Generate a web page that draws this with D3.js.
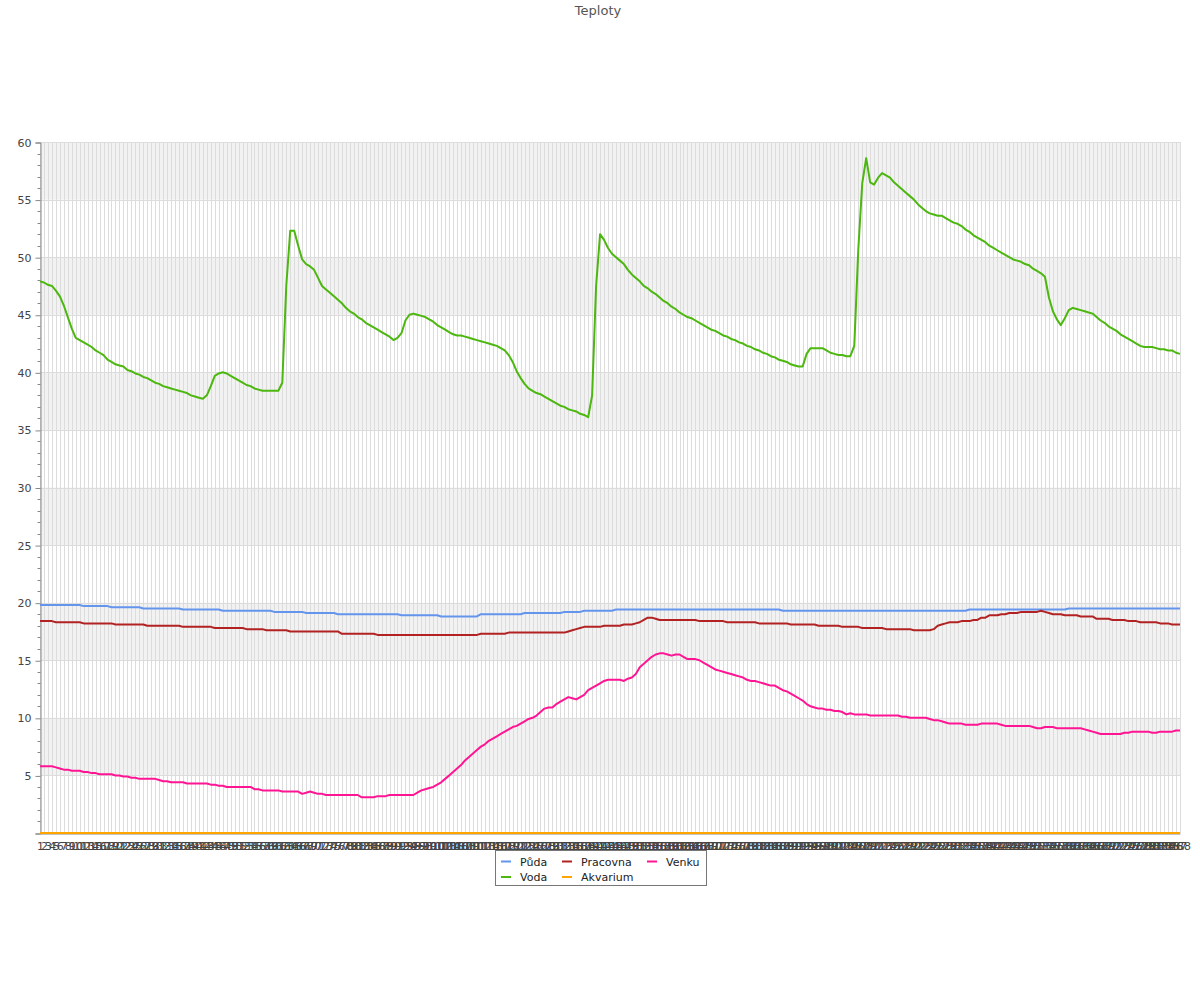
<!DOCTYPE html>
<html>
<head>
<meta charset="utf-8">
<script src="https://cdn.jsdelivr.net/npm/d3@7"></script>
<style>
  html, body { margin: 0; padding: 0; background: #fff; }
  svg { display: block; font-family: "DejaVu Sans", sans-serif; }
</style>
</head>
<body>
<svg id="chart" width="1200" height="1000"></svg>
<script>
const title = "Teploty";
const categories = d3.range(1, 289).map(String);
const yTicks = [0, 5, 10, 15, 20, 25, 30, 35, 40, 45, 50, 55, 60];
const seriesNames = ["Půda", "Voda", "Pracovna", "Akvarium", "Venku"];
const seriesColors = ["#6495ed", "#4cb70f", "#b22222", "#ffa500", "#ff1493"];

const puda = [
19.8,19.8,19.8,19.8,19.8,19.8,19.8,19.8,19.8,19.8,
19.8,19.7,19.7,19.7,19.7,19.7,19.7,19.7,19.6,19.6,
19.6,19.6,19.6,19.6,19.6,19.6,19.5,19.5,19.5,19.5,
19.5,19.5,19.5,19.5,19.5,19.5,19.4,19.4,19.4,19.4,
19.4,19.4,19.4,19.4,19.4,19.4,19.3,19.3,19.3,19.3,
19.3,19.3,19.3,19.3,19.3,19.3,19.3,19.3,19.3,19.2,
19.2,19.2,19.2,19.2,19.2,19.2,19.2,19.1,19.1,19.1,
19.1,19.1,19.1,19.1,19.1,19.0,19.0,19.0,19.0,19.0,
19.0,19.0,19.0,19.0,19.0,19.0,19.0,19.0,19.0,19.0,
19.0,18.9,18.9,18.9,18.9,18.9,18.9,18.9,18.9,18.9,
18.9,18.8,18.8,18.8,18.8,18.8,18.8,18.8,18.8,18.8,
18.8,19.0,19.0,19.0,19.0,19.0,19.0,19.0,19.0,19.0,
19.0,19.0,19.1,19.1,19.1,19.1,19.1,19.1,19.1,19.1,
19.1,19.1,19.2,19.2,19.2,19.2,19.2,19.3,19.3,19.3,
19.3,19.3,19.3,19.3,19.3,19.4,19.4,19.4,19.4,19.4,
19.4,19.4,19.4,19.4,19.4,19.4,19.4,19.4,19.4,19.4,
19.4,19.4,19.4,19.4,19.4,19.4,19.4,19.4,19.4,19.4,
19.4,19.4,19.4,19.4,19.4,19.4,19.4,19.4,19.4,19.4,
19.4,19.4,19.4,19.4,19.4,19.4,19.4,19.3,19.3,19.3,
19.3,19.3,19.3,19.3,19.3,19.3,19.3,19.3,19.3,19.3,
19.3,19.3,19.3,19.3,19.3,19.3,19.3,19.3,19.3,19.3,
19.3,19.3,19.3,19.3,19.3,19.3,19.3,19.3,19.3,19.3,
19.3,19.3,19.3,19.3,19.3,19.3,19.3,19.3,19.3,19.3,
19.3,19.3,19.3,19.3,19.4,19.4,19.4,19.4,19.4,19.4,
19.4,19.4,19.4,19.4,19.4,19.4,19.4,19.4,19.4,19.4,
19.4,19.4,19.4,19.4,19.4,19.4,19.4,19.4,19.4,19.5,
19.5,19.5,19.5,19.5,19.5,19.5,19.5,19.5,19.5,19.5,
19.5,19.5,19.5,19.5,19.5,19.5,19.5,19.5,19.5,19.5,
19.5,19.5,19.5,19.5,19.5,19.5,19.5,19.5];

const voda = [
47.9,47.8,47.6,47.5,47.1,46.6,45.8,44.8,43.8,43.0,
42.8,42.6,42.4,42.2,41.9,41.7,41.5,41.1,40.9,40.7,
40.6,40.5,40.2,40.1,39.9,39.8,39.6,39.5,39.3,39.1,
39.0,38.8,38.7,38.6,38.5,38.4,38.3,38.2,38.0,37.9,
37.8,37.7,38.0,38.8,39.7,39.9,40.0,39.9,39.7,39.5,
39.3,39.1,38.9,38.8,38.6,38.5,38.4,38.4,38.4,38.4,
38.4,39.1,47.5,52.3,52.3,51.0,49.8,49.4,49.2,48.9,
48.2,47.5,47.2,46.9,46.6,46.3,46.0,45.6,45.3,45.1,
44.8,44.6,44.3,44.1,43.9,43.7,43.5,43.3,43.1,42.8,
43.0,43.4,44.5,45.0,45.1,45.0,44.9,44.8,44.6,44.4,
44.1,43.9,43.7,43.5,43.3,43.2,43.2,43.1,43.0,42.9,
42.8,42.7,42.6,42.5,42.4,42.3,42.1,41.9,41.5,40.9,
40.1,39.5,39.0,38.6,38.4,38.2,38.1,37.9,37.7,37.5,
37.3,37.1,37.0,36.8,36.7,36.6,36.4,36.3,36.1,38.0,
47.5,52.0,51.5,50.8,50.3,50.0,49.7,49.4,48.9,48.5,
48.2,47.9,47.5,47.3,47.0,46.8,46.5,46.2,46.0,45.7,
45.5,45.2,45.0,44.8,44.7,44.5,44.3,44.1,43.9,43.7,
43.6,43.4,43.2,43.1,42.9,42.8,42.6,42.5,42.3,42.2,
42.0,41.9,41.7,41.6,41.4,41.3,41.1,41.0,40.9,40.7,
40.6,40.5,40.5,41.6,42.1,42.1,42.1,42.1,41.9,41.7,
41.6,41.5,41.5,41.4,41.4,42.3,50.6,56.4,58.6,56.5,
56.3,56.9,57.3,57.1,56.9,56.5,56.2,55.9,55.6,55.3,
55.0,54.6,54.3,54.0,53.8,53.7,53.6,53.6,53.4,53.2,
53.0,52.9,52.7,52.4,52.2,51.9,51.7,51.5,51.3,51.0,
50.8,50.6,50.4,50.2,50.0,49.8,49.7,49.6,49.4,49.3,
49.0,48.8,48.6,48.3,46.5,45.3,44.6,44.1,44.7,45.4,
45.6,45.5,45.4,45.3,45.2,45.1,44.8,44.5,44.3,44.0,
43.8,43.6,43.3,43.1,42.9,42.7,42.5,42.3,42.2,42.2,
42.2,42.1,42.0,42.0,41.9,41.9,41.7,41.6];

const pracovna = [
18.4,18.4,18.4,18.4,18.3,18.3,18.3,18.3,18.3,18.3,
18.3,18.2,18.2,18.2,18.2,18.2,18.2,18.2,18.2,18.1,
18.1,18.1,18.1,18.1,18.1,18.1,18.1,18.0,18.0,18.0,
18.0,18.0,18.0,18.0,18.0,18.0,17.9,17.9,17.9,17.9,
17.9,17.9,17.9,17.9,17.8,17.8,17.8,17.8,17.8,17.8,
17.8,17.8,17.7,17.7,17.7,17.7,17.7,17.6,17.6,17.6,
17.6,17.6,17.6,17.5,17.5,17.5,17.5,17.5,17.5,17.5,
17.5,17.5,17.5,17.5,17.5,17.5,17.3,17.3,17.3,17.3,
17.3,17.3,17.3,17.3,17.3,17.2,17.2,17.2,17.2,17.2,
17.2,17.2,17.2,17.2,17.2,17.2,17.2,17.2,17.2,17.2,
17.2,17.2,17.2,17.2,17.2,17.2,17.2,17.2,17.2,17.2,
17.2,17.3,17.3,17.3,17.3,17.3,17.3,17.3,17.4,17.4,
17.4,17.4,17.4,17.4,17.4,17.4,17.4,17.4,17.4,17.4,
17.4,17.4,17.4,17.5,17.6,17.7,17.8,17.9,17.9,17.9,
17.9,17.9,18.0,18.0,18.0,18.0,18.0,18.1,18.1,18.1,
18.2,18.3,18.5,18.7,18.7,18.6,18.5,18.5,18.5,18.5,
18.5,18.5,18.5,18.5,18.5,18.5,18.4,18.4,18.4,18.4,
18.4,18.4,18.4,18.3,18.3,18.3,18.3,18.3,18.3,18.3,
18.3,18.2,18.2,18.2,18.2,18.2,18.2,18.2,18.2,18.1,
18.1,18.1,18.1,18.1,18.1,18.1,18.0,18.0,18.0,18.0,
18.0,18.0,17.9,17.9,17.9,17.9,17.9,17.8,17.8,17.8,
17.8,17.8,17.8,17.7,17.7,17.7,17.7,17.7,17.7,17.7,
17.6,17.6,17.6,17.6,17.6,17.7,18.0,18.1,18.2,18.3,
18.3,18.3,18.4,18.4,18.4,18.5,18.5,18.7,18.7,18.9,
18.9,18.9,19.0,19.0,19.1,19.1,19.1,19.2,19.2,19.2,
19.2,19.2,19.3,19.2,19.1,19.0,19.0,19.0,18.9,18.9,
18.9,18.9,18.8,18.8,18.8,18.8,18.6,18.6,18.6,18.6,
18.5,18.5,18.5,18.5,18.4,18.4,18.4,18.3,18.3,18.3,
18.3,18.3,18.2,18.2,18.2,18.1,18.1,18.1];

const akvarium = [
0,0,0,0,0,0,0,0,0,0, 0,0,0,0,0,0,0,0,0,0, 0,0,0,0,0,0,0,0,0,0,
0,0,0,0,0,0,0,0,0,0, 0,0,0,0,0,0,0,0,0,0, 0,0,0,0,0,0,0,0,0,0,
0,0,0,0,0,0,0,0,0,0, 0,0,0,0,0,0,0,0,0,0, 0,0,0,0,0,0,0,0,0,0,
0,0,0,0,0,0,0,0,0,0, 0,0,0,0,0,0,0,0,0,0, 0,0,0,0,0,0,0,0,0,0,
0,0,0,0,0,0,0,0,0,0, 0,0,0,0,0,0,0,0,0,0, 0,0,0,0,0,0,0,0,0,0,
0,0,0,0,0,0,0,0,0,0, 0,0,0,0,0,0,0,0,0,0, 0,0,0,0,0,0,0,0,0,0,
0,0,0,0,0,0,0,0,0,0, 0,0,0,0,0,0,0,0,0,0, 0,0,0,0,0,0,0,0,0,0,
0,0,0,0,0,0,0,0,0,0, 0,0,0,0,0,0,0,0,0,0, 0,0,0,0,0,0,0,0,0,0,
0,0,0,0,0,0,0,0,0,0, 0,0,0,0,0,0,0,0,0,0, 0,0,0,0,0,0,0,0,0,0,
0,0,0,0,0,0,0,0,0,0, 0,0,0,0,0,0,0,0];

const venku = [
5.8,5.8,5.8,5.8,5.7,5.6,5.5,5.5,5.4,5.4,
5.4,5.3,5.3,5.2,5.2,5.1,5.1,5.1,5.1,5.0,
5.0,4.9,4.9,4.8,4.8,4.7,4.7,4.7,4.7,4.7,
4.6,4.5,4.5,4.4,4.4,4.4,4.4,4.3,4.3,4.3,
4.3,4.3,4.3,4.2,4.2,4.1,4.1,4.0,4.0,4.0,
4.0,4.0,4.0,4.0,3.8,3.8,3.7,3.7,3.7,3.7,
3.7,3.6,3.6,3.6,3.6,3.6,3.4,3.5,3.6,3.5,
3.4,3.4,3.3,3.3,3.3,3.3,3.3,3.3,3.3,3.3,
3.3,3.1,3.1,3.1,3.1,3.2,3.2,3.2,3.3,3.3,
3.3,3.3,3.3,3.3,3.3,3.5,3.7,3.8,3.9,4.0,
4.2,4.4,4.7,5.0,5.3,5.6,5.9,6.3,6.6,6.9,
7.2,7.5,7.7,8.0,8.2,8.4,8.6,8.8,9.0,9.2,
9.3,9.5,9.7,9.9,10.0,10.2,10.5,10.8,10.9,10.9,
11.2,11.4,11.6,11.8,11.7,11.6,11.8,12.0,12.4,12.6,
12.8,13.0,13.2,13.3,13.3,13.3,13.3,13.2,13.4,13.5,
13.8,14.4,14.7,15.0,15.3,15.5,15.6,15.6,15.5,15.4,
15.5,15.5,15.3,15.1,15.1,15.1,15.0,14.8,14.6,14.4,
14.2,14.1,14.0,13.9,13.8,13.7,13.6,13.5,13.3,13.2,
13.2,13.1,13.0,12.9,12.8,12.8,12.6,12.4,12.3,12.1,
11.9,11.7,11.5,11.2,11.0,10.9,10.8,10.8,10.7,10.7,
10.6,10.6,10.5,10.3,10.4,10.3,10.3,10.3,10.3,10.2,
10.2,10.2,10.2,10.2,10.2,10.2,10.2,10.1,10.1,10.0,
10.0,10.0,10.0,10.0,9.9,9.8,9.8,9.7,9.6,9.5,
9.5,9.5,9.5,9.4,9.4,9.4,9.4,9.5,9.5,9.5,
9.5,9.5,9.4,9.3,9.3,9.3,9.3,9.3,9.3,9.3,
9.2,9.1,9.1,9.2,9.2,9.2,9.1,9.1,9.1,9.1,
9.1,9.1,9.1,9.0,8.9,8.8,8.7,8.6,8.6,8.6,
8.6,8.6,8.6,8.7,8.7,8.8,8.8,8.8,8.8,8.8,
8.7,8.7,8.8,8.8,8.8,8.8,8.9,8.9];

const seriesData = [puda, voda, pracovna, akvarium, venku];

const svg = d3.select("#chart");
const plotLeft = 40, plotRight = 1180, plotTop = 142, plotBottom = 833;

const x = d3.scalePoint().domain(categories).range([plotLeft, plotRight]);
const y = d3.scaleLinear().domain([0, 60]).range([plotBottom, plotTop]);

// title
svg.append("text")
  .attr("x", 598).attr("y", 15)
  .attr("text-anchor", "middle")
  .attr("font-size", 13)
  .attr("fill", "#555")
  .text(title);

// alternating bands
const bands = [];
for (let i = 0; i < yTicks.length - 1; i++) {
  if (i % 2 === 1) bands.push([yTicks[i], yTicks[i + 1]]);
}
svg.append("g").selectAll("rect").data(bands).join("rect")
  .attr("x", plotLeft).attr("width", plotRight - plotLeft)
  .attr("y", d => y(d[1])).attr("height", d => y(d[0]) - y(d[1]))
  .attr("fill", "#f2f2f2");

// vertical grid
svg.append("g").selectAll("line").data(categories).join("line")
  .attr("x1", d => Math.round(x(d)) + 0.5).attr("x2", d => Math.round(x(d)) + 0.5)
  .attr("y1", plotTop).attr("y2", plotBottom)
  .attr("stroke", "#dcdcdc").attr("stroke-width", 1);

// horizontal grid
svg.append("g").selectAll("line").data(yTicks).join("line")
  .attr("x1", plotLeft).attr("x2", plotRight)
  .attr("y1", d => Math.round(y(d)) + 0.5).attr("y2", d => Math.round(y(d)) + 0.5)
  .attr("stroke", "#dcdcdc").attr("stroke-width", 1);

// y axis
const yAxis = d3.axisLeft(y).tickValues(yTicks).tickSize(5).tickPadding(4)
  .tickFormat(d => d === 0 ? "" : d);
const yg = svg.append("g").attr("transform", `translate(${plotLeft + 0.5},0.5)`).call(yAxis);
yg.select(".domain").attr("stroke", "#888");
yg.selectAll(".tick line").attr("stroke", "#888");
yg.selectAll("text").attr("font-size", 11).attr("fill", "#444").attr("font-family", "DejaVu Sans");
const minor = d3.range(0, 61).filter(v => v % 5 !== 0);
yg.append("g").selectAll("line").data(minor).join("line")
  .attr("x1", -3).attr("x2", 0)
  .attr("y1", d => Math.round(y(d))).attr("y2", d => Math.round(y(d)))
  .attr("stroke", "#888");

// x axis
const xAxis = d3.axisBottom(x).tickSize(0).tickPadding(9);
const xg = svg.append("g").attr("transform", `translate(0,${plotBottom + 0.5})`).call(xAxis);
xg.select(".domain").attr("stroke", "#888");
xg.selectAll("text").attr("font-size", 11).attr("fill", "#444").attr("font-family", "DejaVu Sans");

// lines
const line = d3.line().x((d, i) => x(categories[i])).y(d => y(d));
const order = [0, 2, 4, 1, 3];
svg.append("g").selectAll("path").data(order).join("path")
  .attr("d", k => line(seriesData[k]))
  .attr("fill", "none")
  .attr("stroke", k => seriesColors[k])
  .attr("stroke-width", 2)
  .attr("stroke-linejoin", "round");

// legend
const lg = svg.append("g");
lg.append("rect").attr("x", 495.5).attr("y", 850.5).attr("width", 211).attr("height", 35)
  .attr("fill", "#fff").attr("stroke", "#777");
const legendItems = [
  {k: 0, col: 0, row: 0}, {k: 2, col: 1, row: 0}, {k: 4, col: 2, row: 0},
  {k: 1, col: 0, row: 1}, {k: 3, col: 1, row: 1}
];
const colX = [501, 562, 647];
const rowY = [861.5, 877];
const li = lg.selectAll("g.item").data(legendItems).join("g").attr("class", "item");
li.append("line")
  .attr("x1", d => colX[d.col]).attr("x2", d => colX[d.col] + 10)
  .attr("y1", d => rowY[d.row]).attr("y2", d => rowY[d.row])
  .attr("stroke", d => seriesColors[d.k]).attr("stroke-width", 2);
li.append("text")
  .attr("x", d => colX[d.col] + 19).attr("y", d => rowY[d.row] + 4)
  .attr("font-size", 11).attr("fill", "#222")
  .text(d => seriesNames[d.k]);
</script>
</body>
</html>
